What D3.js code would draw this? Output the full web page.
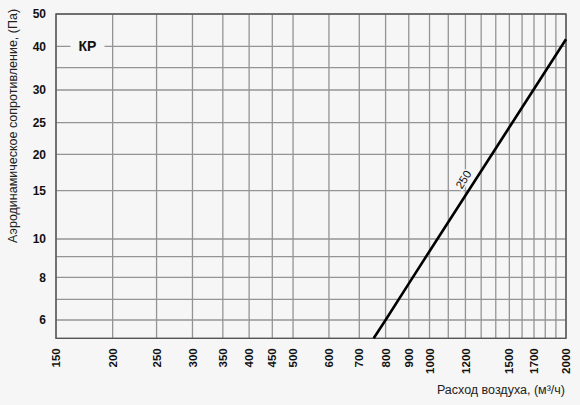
<!DOCTYPE html>
<html><head><meta charset="utf-8">
<script src="https://cdn.jsdelivr.net/npm/d3@7/dist/d3.min.js"></script>
<style>
html,body{margin:0;padding:0;background:#f6f6f6;}
text{font-family:"Liberation Sans",Arial,sans-serif;}
</style>
</head><body>
<svg id="c" width="580" height="405"></svg>
<script>
// ---------- data ----------
const xTickLabels = [150,200,250,300,350,400,450,500,600,700,800,900,1000,1200,1500,1700,2000];
const xGrid = [150,200,250,300,350,400,450,500,600,700,800,900,1000,1100,1200,1300,1400,1500,1600,1700,1800,1900,2000];
const yTickLabels = [50,40,30,25,20,15,10,8,6];
const yGrid = [50,40,35,30,25,20,15,10,9,8,7,6];
const seriesName = "250";
const flow = [753,800,900,1000,1200,1500,1700,2000];
const pressure = [5.2,6.0,7.7,9.3,14.4,24.2,30.2,42.0];
const chartTag = "КР";
const xTitle = "Расход воздуха, (м³/ч)";
const yTitle = "Аэродинамическое сопротивление, (Па)";

// ---------- layout ----------
const W = 580, H = 405;
const m = {l:56, t:14, r:14, b:66.7};
const iw = W - m.l - m.r, ih = H - m.t - m.b;
const yMin = 5.2, yMax = 50;
// printed grid is not evenly logarithmic: breakpoints as fraction of plot height
const yBreakVals = [yMax,40,35,30,25,20,15,10,9,8,7,6,yMin];
const yBreakFrac = [0,0.0996,0.1656,0.2343,0.3352,0.4326,0.5449,0.6938,0.7484,0.8119,0.8797,0.9436,1];

const svg = d3.select("#c");
svg.append("rect").attr("width",W).attr("height",H).attr("fill","#f6f6f6");
const g = svg.append("g").attr("transform",`translate(${m.l},${m.t})`);

const x = d3.scaleLog().domain([150,2000]).range([0,iw]);
const yL = d3.scaleLinear().domain(yBreakVals.map(Math.log10)).range(yBreakFrac.map(f=>f*ih));
const y = v => yL(Math.log10(v));

// grid
const gridColor = "#949494";
g.append("g").selectAll("line").data(xGrid).join("line")
  .attr("x1",d=>x(d)).attr("x2",d=>x(d)).attr("y1",0).attr("y2",ih)
  .attr("stroke",gridColor).attr("stroke-width",1.3);
g.append("g").selectAll("line").data(yGrid).join("line")
  .attr("x1",0).attr("x2",iw).attr("y1",d=>y(d)).attr("y2",d=>y(d))
  .attr("stroke",gridColor).attr("stroke-width",1.3);

// border
g.append("rect").attr("x",0).attr("y",0).attr("width",iw).attr("height",ih)
  .attr("fill","none").attr("stroke","#555").attr("stroke-width",1.4);

// y tick labels
g.append("g").selectAll("text").data(yTickLabels).join("text")
  .attr("x",-10).attr("y",d=>y(d)).attr("dy","0.36em")
  .attr("text-anchor","end").attr("font-size",12).attr("font-weight","bold")
  .attr("fill","#111").text(d=>d);

// x tick labels (rotated)
g.append("g").selectAll("text").data(xTickLabels).join("text")
  .attr("transform",d=>`translate(${x(d)},${ih+10}) rotate(-90)`)
  .attr("dy","0.36em").attr("text-anchor","end")
  .attr("font-size",11.5).attr("font-weight","bold").attr("fill","#111").text(d=>d);

// axis titles
svg.append("text").attr("x",m.l+iw-1).attr("y",394).attr("text-anchor","end")
  .attr("font-size",12.5).attr("fill","#222").text(xTitle);
svg.append("text").attr("transform",`translate(13,${m.t+112}) rotate(-90)`)
  .attr("text-anchor","middle").attr("dy","0.35em")
  .attr("font-size",12.5).attr("fill","#222").text(yTitle);

// chart tag "КР" on the 40 gridline
const tagX = x(176), tagY = y(40);
g.append("rect").attr("x",tagX-17).attr("y",tagY-8).attr("width",34).attr("height",16).attr("fill","#f6f6f6");
g.append("text").attr("x",tagX).attr("y",tagY).attr("dy","0.36em").attr("text-anchor","middle")
  .attr("font-size",14).attr("font-weight","bold").attr("fill","#111").text(chartTag);

// series line
const pts = flow.map((f,i)=>[x(f), y(pressure[i])]);
g.append("path").attr("d",d3.line()(pts)).attr("fill","none")
  .attr("stroke","#000").attr("stroke-width",2.6);

// series label along the line
const lf = 1240, lp = 15.7;
const i0 = 4, i1 = 5;
const ang = Math.atan2(y(pressure[i1])-y(pressure[i0]), x(flow[i1])-x(flow[i0]))*180/Math.PI;
g.append("text").attr("transform",`translate(${x(lf)},${y(lp)}) rotate(${ang})`)
  .attr("y",-6).attr("text-anchor","middle").attr("font-size",11.5)
  .attr("fill","#111").attr("stroke","#f6f6f6").attr("stroke-width",3).attr("paint-order","stroke")
  .text(seriesName);
</script>
</body></html>
